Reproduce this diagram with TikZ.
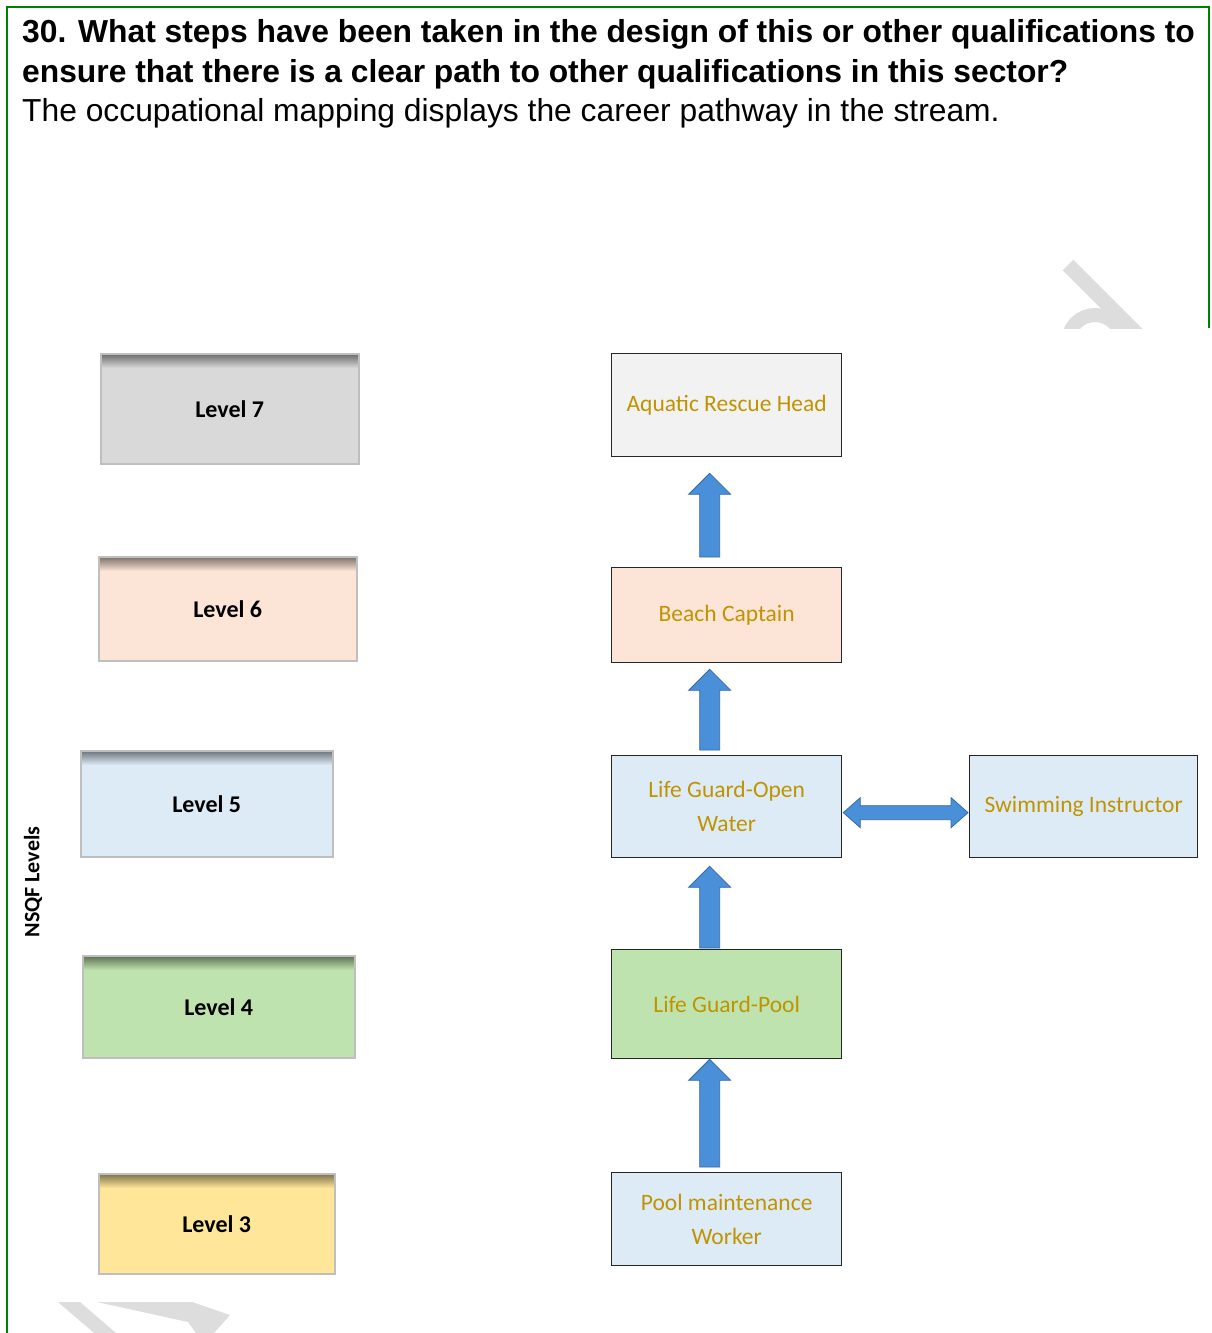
\documentclass[tikz,border=0pt]{standalone}
\usepackage{fontspec}
\setmainfont{Liberation Sans}
\newfontfamily\calfont{Carlito}
\usetikzlibrary{calc}
\definecolor{frame}{RGB}{0,128,0}
\definecolor{gold}{RGB}{192,148,0}
\definecolor{arrblue}{RGB}{74,144,217}
\definecolor{arredge}{RGB}{50,105,170}
\definecolor{lvgray}{RGB}{217,217,217}
\definecolor{peach}{RGB}{252,228,214}
\definecolor{lblue}{RGB}{221,235,247}
\definecolor{lgreen}{RGB}{191,227,174}
\definecolor{lyellow}{RGB}{255,230,153}
\definecolor{pale}{RGB}{242,242,242}
\definecolor{wm}{RGB}{221,221,221}
\newcommand\blockup[4]{%
  \path[arrstyle] let \p1=(#1.north), \p2=(#2.south) in
    (\x1-27pt, \y1+#3) -- (\x1-27pt, \y2-#4-21pt) -- (\x1-38pt, \y2-#4-21pt)
    -- (\x1-17pt, \y2-#4) -- (\x1+4pt, \y2-#4-21pt) -- (\x1-7pt, \y2-#4-21pt)
    -- (\x1-7pt, \y1+#3) -- cycle;}
\begin{document}
\begin{tikzpicture}[x=1pt,y=-1pt,
  lvl/.style={draw=gray!50, line width=1.5pt, fill=#1, anchor=north west, inner sep=0pt,
    font=\calfont\bfseries\fontsize{24}{28}\selectfont,
    path picture={\foreach \i in {0,...,13}{
      \pgfmathsetmacro\op{0.5*(1-\i/14)}
      \fill[black, opacity=\op] ([yshift=-\i pt]path picture bounding box.north west)
        rectangle ([yshift=-\i pt-1.05pt]path picture bounding box.north east);}}},
  job/.style={draw=black!85, line width=1.3pt, fill=#1, anchor=north west, inner sep=0pt,
    text=gold, align=center, font=\calfont\fontsize{23.5}{34}\selectfont},
  arrstyle/.style={fill=arrblue, draw=arredge, line width=0.8pt, line join=miter},
  title/.style={anchor=base west, inner sep=0pt, font=\bfseries\fontsize{31.8}{40}\selectfont},
  body/.style={anchor=base west, inner sep=0pt, font=\fontsize{31.8}{40}\selectfont}]
\useasboundingbox (0,0) rectangle (1211,1333);
\fill[white] (0,0) rectangle (1211,1333);
% frame
\draw[frame, line width=2.5pt] (7,1333) -- (7,7) -- (1209,7) -- (1209,328);
% heading
\node[title] (t1) at (22,42) {30. What steps have been taken in the design of this or other qualifications to};
\node[title] (t2) at (22,82) {ensure that there is a clear path to other qualifications in this sector?};
\node[body] (t3) at (22,121) {The occupational mapping displays the career pathway in the stream.};
% watermarks
\begin{scope}
  \clip (1000,240) rectangle (1211,328);
  \draw[wm, line width=15pt] (1068,265) -- (1160,357);
  \draw[wm, line width=14pt] (1095,342) circle[radius=27];
\end{scope}
\fill[wm] (58,1302) -- (80,1302) -- (116,1333) -- (94,1333) -- cycle;
\fill[wm] (97,1302) -- (192,1302) -- (230,1315) -- (214,1333) -- (196,1333) -- (188,1322) -- cycle;
% levels
\node[lvl=lvgray, minimum width=258pt, minimum height=110pt] (l7) at (100,353) {Level 7};
\node[lvl=peach, minimum width=258pt, minimum height=104pt] (l6) at (98,556) {Level 6};
\node[lvl=lblue, minimum width=252pt, minimum height=106pt] (l5) at (80,750) {Level 5};
\node[lvl=lgreen, minimum width=272pt, minimum height=102pt] (l4) at (82,955) {Level 4};
\node[lvl=lyellow, minimum width=236pt, minimum height=100pt] (l3) at (98,1173) {Level 3};
\node[rotate=90, inner sep=0pt, font=\calfont\bfseries\fontsize{22}{26}\selectfont] (nsqf) at (33,882) {NSQF Levels};
% jobs
\node[job=pale, minimum width=230pt, minimum height=103pt] (arh) at (611,353) {Aquatic Rescue Head};
\node[job=peach, minimum width=230pt, minimum height=95pt] (bc) at (611,567) {Beach Captain};
\node[job=lblue, minimum width=230pt, minimum height=102pt] (lgo) at (611,755) {Life Guard-Open\\Water};
\node[job=lblue, minimum width=228pt, minimum height=102pt] (si) at (969,755) {Swimming Instructor};
\node[job=lgreen, minimum width=230pt, minimum height=109pt] (lgp) at (611,949) {Life Guard-Pool};
\node[job=lblue, minimum width=230pt, minimum height=93pt] (pmw) at (611,1172) {Pool maintenance\\Worker};
% arrows
\blockup{bc}{arh}{10pt}{16pt}
\blockup{lgo}{bc}{5pt}{6pt}
\blockup{lgp}{lgo}{1pt}{8pt}
\blockup{pmw}{lgp}{5pt}{0pt}
\path[arrstyle] let \p1=(lgo.east), \p2=(si.west), \n1={\y1-6pt} in
  (\x1+1pt, \n1) -- (\x1+18pt, \n1+15pt) -- (\x1+18pt, \n1+7pt) -- (\x2-18pt, \n1+7pt)
  -- (\x2-18pt, \n1+15pt) -- (\x2-1pt, \n1) -- (\x2-18pt, \n1-15pt) -- (\x2-18pt, \n1-7pt)
  -- (\x1+18pt, \n1-7pt) -- (\x1+18pt, \n1-15pt) -- cycle;
\end{tikzpicture}
\end{document}
